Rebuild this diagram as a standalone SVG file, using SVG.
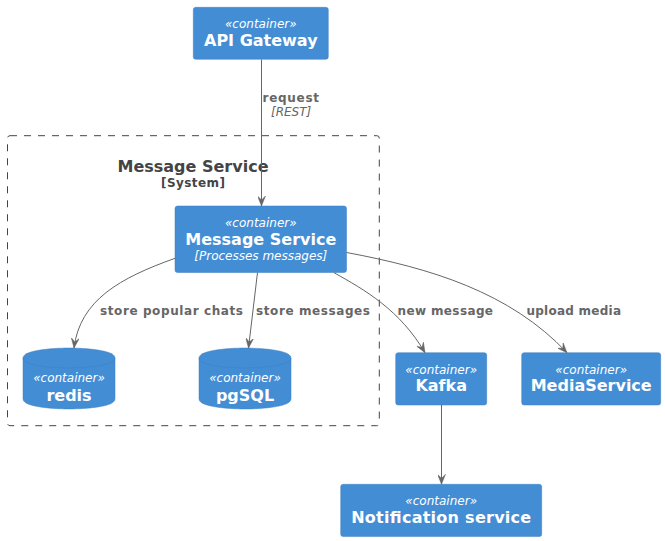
<svg xmlns="http://www.w3.org/2000/svg" width="665" height="541" viewBox="0 0 665 541">
<style>
text{font-family:"DejaVu Sans","Liberation Sans",sans-serif}
.box{fill:#438DD5;stroke:#3C7FC0;stroke-width:0.5}
.st{font-size:12px;font-style:italic;fill:#FFFFFF;text-anchor:middle}
.nm{font-size:16px;font-weight:bold;fill:#FFFFFF;text-anchor:middle}
.ds{font-size:12px;font-style:italic;fill:#FFFFFF;text-anchor:middle}
.edge{fill:none;stroke:#666666;stroke-width:1}
.el{font-size:12px;font-weight:bold;fill:#666666}
.et{font-size:12px;font-style:italic;fill:#666666}
.bd{fill:none;stroke:#444444;stroke-width:1;stroke-dasharray:7,7}
.bt{font-size:16px;font-weight:bold;fill:#444444;text-anchor:middle}
.bs{font-size:12px;font-weight:bold;fill:#444444;text-anchor:middle}
</style>
<defs>
<marker id="arr" markerUnits="userSpaceOnUse" markerWidth="10" markerHeight="8" refX="10" refY="4" orient="auto" viewBox="0 0 10 8">
<path d="M0,0 L10,4 L0,8 L4,4 Z" fill="#666666" stroke="#666666" stroke-width="0.5"/>
</marker>
</defs>
<g id="boundary">
<rect class="bd" x="7.5" y="135.7" width="371.8" height="290" rx="2.5" ry="2.5"/>
<text class="bt" x="193" y="172">Message Service</text>
<text class="bs" x="193" y="187" textLength="64" lengthAdjust="spacing">[System]</text>
</g>
<g id="api-gateway">
<rect class="box" x="193.3" y="7.3" width="135" height="52" rx="2.5" ry="2.5"/>
<text class="st" x="260.8" y="28">«container»</text>
<text class="nm" x="260.8" y="46">API Gateway</text>
</g>
<g id="message-service">
<rect class="box" x="175" y="206" width="171.5" height="66.5" rx="2.5" ry="2.5"/>
<text class="st" x="260.8" y="227">«container»</text>
<text class="nm" x="260.8" y="245">Message Service</text>
<text class="ds" x="260.8" y="260">[Processes messages]</text>
</g>
<g id="redis">
<path class="box" d="M23,358 C23,348 69,348 69,348 C69,348 115,348 115,358 L115,399 C115,409 69,409 69,409 C69,409 23,409 23,399 L23,358 Z"/>
<path d="M23,358 C23,368 69,368 69,368 C69,368 115,368 115,358" fill="none" stroke="#3C7FC0" stroke-width="0.5"/>
<text class="st" x="69" y="382">«container»</text>
<text class="nm" x="69" y="401">redis</text>
</g>
<g id="pgsql">
<path class="box" d="M199,358 C199,348 245,348 245,348 C245,348 291,348 291,358 L291,399 C291,409 245,409 245,409 C245,409 199,409 199,399 L199,358 Z"/>
<path d="M199,358 C199,368 245,368 245,368 C245,368 291,368 291,358" fill="none" stroke="#3C7FC0" stroke-width="0.5"/>
<text class="st" x="245" y="382">«container»</text>
<text class="nm" x="245" y="401">pgSQL</text>
</g>
<g id="kafka">
<rect class="box" x="395.7" y="352.7" width="91" height="52.3" rx="2.5" ry="2.5"/>
<text class="st" x="441.2" y="373.5">«container»</text>
<text class="nm" x="441.2" y="391">Kafka</text>
</g>
<g id="media-service">
<rect class="box" x="521.7" y="352.7" width="139" height="52.3" rx="2.5" ry="2.5"/>
<text class="st" x="591.2" y="373.5">«container»</text>
<text class="nm" x="591.2" y="391">MediaService</text>
</g>
<g id="notification-service">
<rect class="box" x="340.7" y="484.3" width="201" height="52.3" rx="2.5" ry="2.5"/>
<text class="st" x="441.2" y="504.5">«container»</text>
<text class="nm" x="441.2" y="523" textLength="180" lengthAdjust="spacing">Notification service</text>
</g>
<g id="connectors">
<path class="edge" d="M261.5,59.5 L261.5,206" marker-end="url(#arr)"/>
<text class="el" x="262.5" y="102" textLength="56.5" lengthAdjust="spacing">request</text>
<text class="et" x="271" y="115.5">[REST]</text>
<path class="edge" d="M175,258.3 C120,278 80,300 74,348" marker-end="url(#arr)"/>
<text class="el" x="100" y="315" textLength="143" lengthAdjust="spacing">store popular chats</text>
<path class="edge" d="M257.5,272.5 L248.5,348" marker-end="url(#arr)"/>
<text class="el" x="256" y="315" textLength="114" lengthAdjust="spacing">store messages</text>
<path class="edge" d="M334,272.7 C365,290 400,310 425,352.7" marker-end="url(#arr)"/>
<text class="el" x="397.5" y="315" textLength="95.5" lengthAdjust="spacing">new message</text>
<path class="edge" d="M346.5,252.5 C430,268 510,292 567,352.7" marker-end="url(#arr)"/>
<text class="el" x="526.5" y="315" textLength="94.5" lengthAdjust="spacing">upload media</text>
<path class="edge" d="M441.5,405 L441.5,484.3" marker-end="url(#arr)"/>
</g>
</svg>
